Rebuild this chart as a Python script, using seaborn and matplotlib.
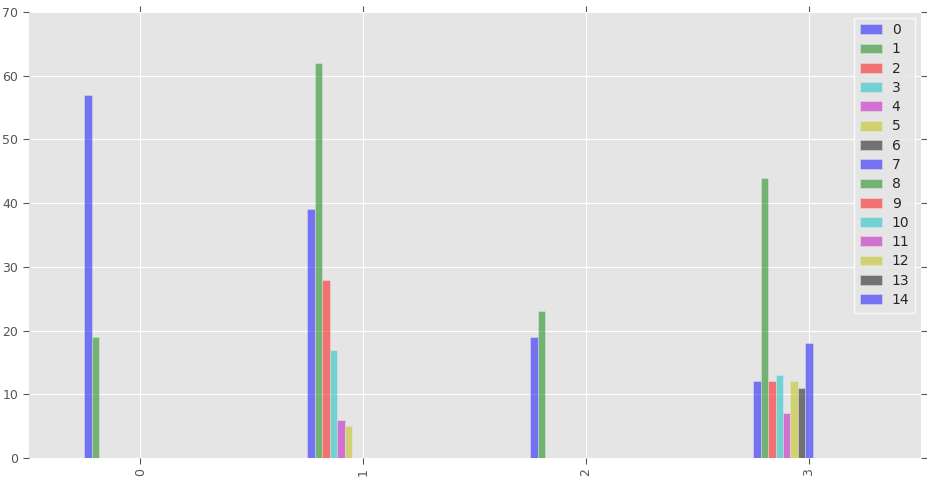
import seaborn as sns
import pandas as pd
import matplotlib.pyplot as plt

categories = [0, 1, 2, 3]
series = list(range(15))

# values per series (series index -> value for each category, None = no bar)
s0 = [57, 39, 19, 12]
s1 = [19, 62, 23, 44]
s2 = [None, 28, None, 12]
s3 = [None, 17, None, 13]
s4 = [None, 6, None, 7]
s5 = [None, 5, None, 12]
s6 = [None, None, None, 11]
s7 = [None, None, None, 18]
all_series = [s0, s1, s2, s3, s4, s5, s6, s7]

rows = []
for i, vals in enumerate(all_series):
    for cat, v in zip(categories, vals):
        if v is not None:
            rows.append({"cat": cat, "series": i, "value": v})
df = pd.DataFrame(rows)

base = ["b", "g", "r", "c", "m", "y", "k"]
palette = {s: base[s % 7] for s in series}

sns.set_style("whitegrid")
plt.rcParams["font.family"] = ["DejaVu Sans"]

fig, ax = plt.subplots(figsize=(9.27, 4.8), dpi=100)
sns.barplot(data=df, x="cat", y="value", hue="series", hue_order=series,
            order=categories, palette=palette, alpha=0.5, width=0.5,
            saturation=1, errorbar=None, edgecolor="#e8e8e8", linewidth=0.6,
            ax=ax)

ax.set_facecolor("#E5E5E5")
for sp in ax.spines.values():
    sp.set_visible(False)
ax.grid(True, color="white", linewidth=0.8)
ax.set_axisbelow(True)
ax.set_xlim(-0.5, 3.5)
ax.set_ylim(0, 70)
ax.set_yticks(range(0, 71, 10))
ax.set_xlabel("")
ax.set_ylabel("")
ax.tick_params(axis="both", which="both", direction="out", length=4,
               color="#555555", labelcolor="#555555", labelsize=9,
               left=True, right=True, top=True, bottom=True)
plt.setp(ax.get_xticklabels(), rotation=90)

h, l = ax.get_legend_handles_labels()
leg = ax.legend(h, l, loc="upper right", fontsize=10, frameon=True,
                facecolor="#E5E5E5", edgecolor="white", handlelength=1.6,
                handletextpad=0.7, labelspacing=0.38, borderpad=0.4,
                fancybox=False, borderaxespad=0.4)

fig.subplots_adjust(left=0.031, right=0.993, top=0.975, bottom=0.046)
fig.savefig("out.png", dpi=100)
